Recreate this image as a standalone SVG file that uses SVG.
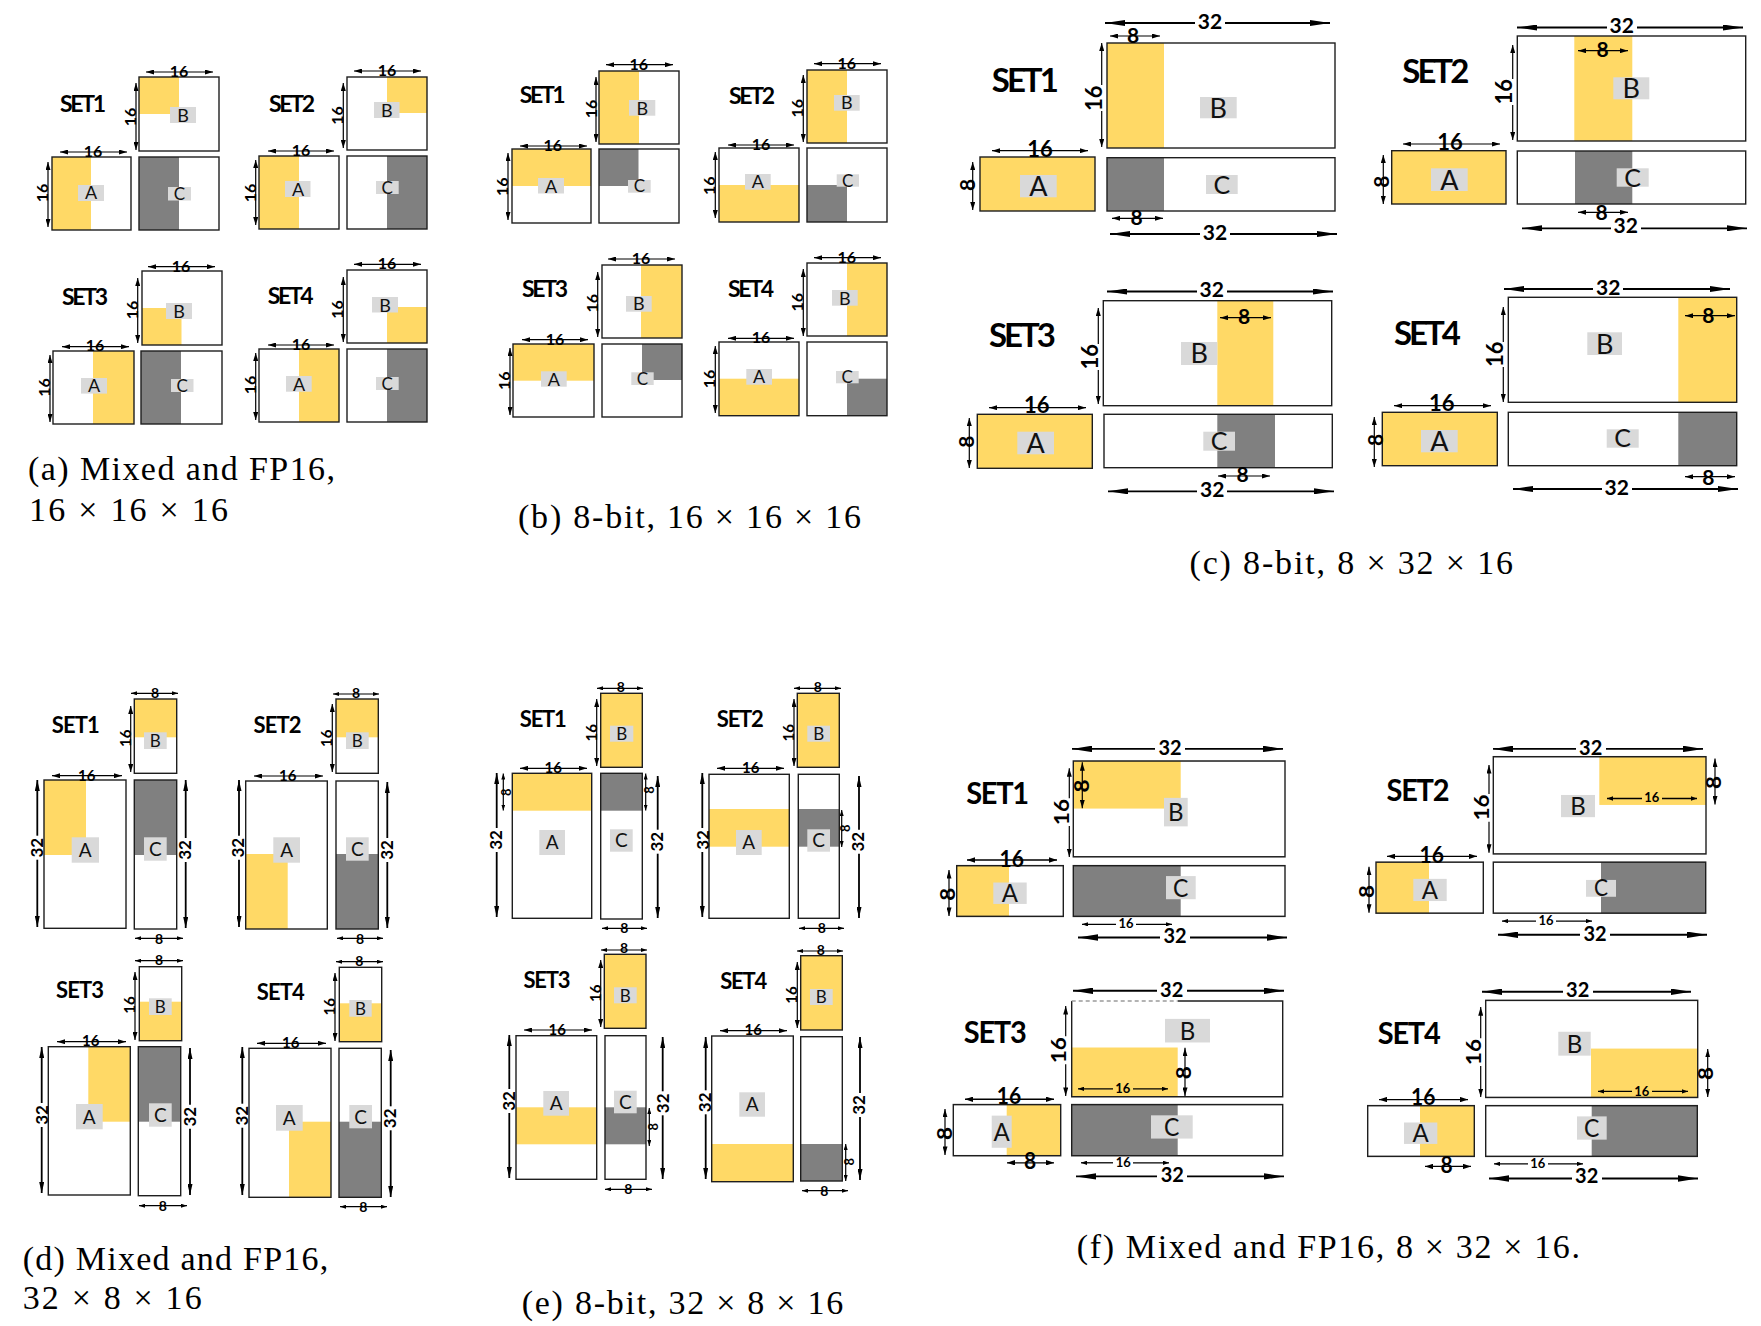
<svg xmlns="http://www.w3.org/2000/svg" width="1761" height="1326" viewBox="0 0 1761 1326">
<defs>
<style>
.bx{fill:none;stroke:#1e1e1e;stroke-width:1.4}
.yl{fill:#FFD966}
.dk{fill:#808080}
.lb{fill:#D9D9D9}
.set{font-family:Lato,"Liberation Sans",sans-serif;font-weight:700;text-anchor:middle;fill:#000}
.lbl{font-family:Lato,"Liberation Sans",sans-serif;text-anchor:middle;fill:#111}
.dm{font-family:Lato,"Liberation Sans",sans-serif;font-weight:700;text-anchor:middle;fill:#000}
.cap{font-family:"Liberation Serif","Times New Roman",serif;font-size:34px;fill:#000}
.l{stroke:#000;stroke-width:1.2;fill:none}
.w{stroke-width:1.8}
.ss{marker-start:url(#s);marker-end:url(#s)}
.sS{marker-start:url(#s)}
.sE{marker-end:url(#s)}
.tt{marker-start:url(#t);marker-end:url(#t)}
.tS{marker-start:url(#t)}
.tE{marker-end:url(#t)}
.mS{marker-start:url(#m)}
.mE{marker-end:url(#m)}
.bS{marker-start:url(#b)}
.bE{marker-end:url(#b)}
</style>
<marker id="s" viewBox="0 0 8 5" refX="8" refY="2.5" markerWidth="8" markerHeight="5" markerUnits="userSpaceOnUse" orient="auto-start-reverse"><path d="M0,0L8,2.5L0,5z"/></marker>
<marker id="t" viewBox="0 0 6 4" refX="6" refY="2" markerWidth="6" markerHeight="4" markerUnits="userSpaceOnUse" orient="auto-start-reverse"><path d="M0,0L6,2L0,4z"/></marker>
<marker id="m" viewBox="0 0 11 5" refX="11" refY="2.5" markerWidth="11" markerHeight="5" markerUnits="userSpaceOnUse" orient="auto-start-reverse"><path d="M0,0L11,2.5L0,5z"/></marker>
<marker id="b" viewBox="0 0 20 6" refX="20" refY="3" markerWidth="20" markerHeight="6" markerUnits="userSpaceOnUse" orient="auto-start-reverse"><path d="M0,0L20,3L0,6z"/></marker>
</defs>
<rect x="0" y="0" width="1761" height="1326" fill="#fff"/>

<!-- ================= PANEL A ================= -->
<g id="panel-a">
<g id="a-set1">
<text class="set" x="83" y="112" font-size="23" textLength="46">SET1</text>
<g id="a1-B"><rect class="yl" x="139" y="77" width="40" height="37"/><rect class="bx" x="139" y="77" width="80" height="74"/><rect class="lb" x="170" y="107" width="26" height="16"/><text class="lbl" x="183" y="121.5" font-size="18">B</text></g>
<g id="a1-A"><rect class="yl" x="52" y="157" width="39" height="73"/><rect class="bx" x="52" y="157" width="79" height="73"/><rect class="lb" x="78" y="185" width="26" height="16"/><text class="lbl" x="91" y="199" font-size="18">A</text></g>
<g id="a1-C"><rect class="dk" x="139" y="157" width="40" height="73"/><rect class="bx" x="139" y="157" width="80" height="73"/><rect class="lb" x="168" y="187" width="23" height="13.5"/><text class="lbl" x="179.5" y="199.8" font-size="17">C</text></g>
</g>
<g id="a-set2">
<text class="set" x="292" y="111.7" font-size="23" textLength="46">SET2</text>
<g id="a2-B"><rect class="yl" x="387" y="77" width="40" height="36"/><rect class="bx" x="347" y="77" width="80" height="73"/><rect class="lb" x="374" y="102" width="25.5" height="16"/><text class="lbl" x="386.7" y="116.5" font-size="18">B</text></g>
<g id="a2-A"><rect class="yl" x="259" y="156" width="40" height="73"/><rect class="bx" x="259" y="156" width="80" height="73"/><rect class="lb" x="285" y="181" width="25.5" height="16"/><text class="lbl" x="298" y="195.5" font-size="18">A</text></g>
<g id="a2-C"><rect class="dk" x="387" y="156" width="40" height="73"/><rect class="bx" x="347" y="156" width="80" height="73"/><rect class="lb" x="376" y="181" width="22.7" height="13"/><text class="lbl" x="387.3" y="193.6" font-size="17">C</text></g>
</g>
<g id="a-set3">
<text class="set" x="85" y="305" font-size="23" textLength="46">SET3</text>
<g id="a3-B"><rect class="yl" x="142" y="308" width="39.5" height="37"/><rect class="bx" x="142" y="271" width="80" height="74"/><rect class="lb" x="166" y="303" width="26" height="16"/><text class="lbl" x="179" y="317.5" font-size="18">B</text></g>
<g id="a3-A"><rect class="yl" x="93" y="351" width="41" height="73"/><rect class="bx" x="53" y="351" width="81" height="73"/><rect class="lb" x="81" y="378" width="26" height="15.6"/><text class="lbl" x="94" y="392.3" font-size="18">A</text></g>
<g id="a3-C"><rect class="dk" x="141" y="351" width="40" height="73"/><rect class="bx" x="141" y="351" width="81" height="73"/><rect class="lb" x="171" y="379" width="22.5" height="13"/><text class="lbl" x="182.3" y="391.6" font-size="17">C</text></g>
</g>
<g id="a-set4">
<text class="set" x="290.7" y="304" font-size="23" textLength="46">SET4</text>
<g id="a4-B"><rect class="yl" x="387" y="307" width="40" height="36"/><rect class="bx" x="347" y="270" width="80" height="73"/><rect class="lb" x="372" y="297" width="26" height="15.5"/><text class="lbl" x="385" y="311.5" font-size="18">B</text></g>
<g id="a4-A"><rect class="yl" x="299" y="349" width="40" height="73"/><rect class="bx" x="259" y="349" width="80" height="73"/><rect class="lb" x="286" y="376" width="25.7" height="15.7"/><text class="lbl" x="299" y="390.5" font-size="18">A</text></g>
<g id="a4-C"><rect class="dk" x="387" y="349" width="40" height="73"/><rect class="bx" x="347" y="349" width="80" height="73"/><rect class="lb" x="376" y="377" width="22.7" height="13"/><text class="lbl" x="387.3" y="389.6" font-size="17">C</text></g>
</g>
<g id="dims-a" font-size="16">
<line class="l ss" x1="146" y1="72" x2="213" y2="72"/><text class="dm" x="179" y="77">16</text>
<line class="l ss" x1="136" y1="83" x2="136" y2="150"/><text class="dm" transform="translate(136 117) rotate(-90)">16</text>
<line class="l ss" x1="60" y1="152" x2="127" y2="152"/><text class="dm" x="93" y="156.5">16</text>
<line class="l ss" x1="48" y1="162" x2="48" y2="227"/><text class="dm" transform="translate(48 193) rotate(-90)">16</text>
<line class="l ss" x1="354" y1="71" x2="421" y2="71"/><text class="dm" x="387" y="76">16</text>
<line class="l ss" x1="343.3" y1="83" x2="343.3" y2="148"/><text class="dm" transform="translate(343 115.5) rotate(-90)">16</text>
<line class="l ss" x1="268" y1="151" x2="334" y2="151"/><text class="dm" x="301" y="156">16</text>
<line class="l ss" x1="255.7" y1="160" x2="255.7" y2="225"/><text class="dm" transform="translate(256 193) rotate(-90)">16</text>
<line class="l ss" x1="148" y1="266.7" x2="215" y2="266.7"/><text class="dm" x="181" y="271.5">16</text>
<line class="l ss" x1="137.7" y1="278" x2="137.7" y2="343"/><text class="dm" transform="translate(138 310) rotate(-90)">16</text>
<line class="l ss" x1="62" y1="346.7" x2="129" y2="346.7"/><text class="dm" x="95" y="351">16</text>
<line class="l ss" x1="50" y1="355" x2="50" y2="422"/><text class="dm" transform="translate(50 387.5) rotate(-90)">16</text>
<line class="l ss" x1="354" y1="264.3" x2="421" y2="264.3"/><text class="dm" x="387" y="269">16</text>
<line class="l ss" x1="343.3" y1="277" x2="343.3" y2="342"/><text class="dm" transform="translate(343 309.5) rotate(-90)">16</text>
<line class="l ss" x1="268" y1="345" x2="334" y2="345"/><text class="dm" x="301" y="349.5">16</text>
<line class="l ss" x1="255.7" y1="353" x2="255.7" y2="420"/><text class="dm" transform="translate(256 385) rotate(-90)">16</text>
</g>
<text class="cap" x="28" y="480" textLength="307">(a) Mixed and FP16,</text>
<text class="cap" x="29" y="521" textLength="199">16 × 16 × 16</text>
</g>

<!-- ================= PANEL B ================= -->
<g id="panel-b">
<g id="b-set1">
<text class="set" x="542.7" y="103.3" font-size="23" textLength="46">SET1</text>
<g id="b1-B"><rect class="yl" x="599" y="71" width="40" height="73"/><rect class="bx" x="599" y="71" width="80" height="73"/><rect class="lb" x="629" y="100" width="26.3" height="15.7"/><text class="lbl" x="642.2" y="114.5" font-size="18">B</text></g>
<g id="b1-A"><rect class="yl" x="512" y="149" width="79" height="37"/><rect class="bx" x="512" y="149" width="79" height="74"/><rect class="lb" x="538" y="178" width="26" height="15.5"/><text class="lbl" x="551" y="192.5" font-size="18">A</text></g>
<g id="b1-C"><rect class="dk" x="599" y="149" width="39.5" height="37"/><rect class="bx" x="599" y="149" width="80" height="74"/><rect class="lb" x="628" y="180" width="22.7" height="12.7"/><text class="lbl" x="639.5" y="192.4" font-size="17">C</text></g>
</g>
<g id="b-set2">
<text class="set" x="752" y="104.3" font-size="23" textLength="46">SET2</text>
<g id="b2-B"><rect class="yl" x="807" y="70" width="40" height="73"/><rect class="bx" x="807" y="70" width="80" height="73"/><rect class="lb" x="834" y="95" width="25.7" height="15.7"/><text class="lbl" x="846.8" y="109.3" font-size="18">B</text></g>
<g id="b2-A"><rect class="yl" x="719" y="185" width="80" height="37"/><rect class="bx" x="719" y="148" width="80" height="74"/><rect class="lb" x="745" y="174" width="25.7" height="15.7"/><text class="lbl" x="757.8" y="188.3" font-size="18">A</text></g>
<g id="b2-C"><rect class="dk" x="807" y="185" width="40" height="37"/><rect class="bx" x="807" y="148" width="80" height="74"/><rect class="lb" x="836.7" y="174.3" width="22.3" height="12.4"/><text class="lbl" x="847.8" y="186.6" font-size="17">C</text></g>
</g>
<g id="b-set3">
<text class="set" x="545" y="297.3" font-size="23" textLength="46">SET3</text>
<g id="b3-B"><rect class="yl" x="641" y="265" width="41" height="73"/><rect class="bx" x="602" y="265" width="80" height="73"/><rect class="lb" x="626" y="296" width="25.7" height="15.7"/><text class="lbl" x="638.8" y="310.3" font-size="18">B</text></g>
<g id="b3-A"><rect class="yl" x="513" y="344" width="81" height="36.7"/><rect class="bx" x="513" y="344" width="81" height="73"/><rect class="lb" x="541" y="371.3" width="25.7" height="15.4"/><text class="lbl" x="553.8" y="385.5" font-size="18">A</text></g>
<g id="b3-C"><rect class="dk" x="642" y="344" width="40" height="36"/><rect class="bx" x="602" y="344" width="80" height="73"/><rect class="lb" x="631.3" y="372.3" width="22.4" height="12.7"/><text class="lbl" x="642.5" y="384.8" font-size="17">C</text></g>
</g>
<g id="b-set4">
<text class="set" x="751" y="296.7" font-size="23" textLength="46">SET4</text>
<g id="b4-B"><rect class="yl" x="847" y="263" width="40" height="73"/><rect class="bx" x="807" y="263" width="80" height="73"/><rect class="lb" x="832" y="290" width="25.7" height="15.7"/><text class="lbl" x="844.8" y="304.5" font-size="18">B</text></g>
<g id="b4-A"><rect class="yl" x="719" y="378.7" width="80" height="37"/><rect class="bx" x="719" y="342" width="80" height="73.7"/><rect class="lb" x="746.3" y="369" width="25.7" height="15.7"/><text class="lbl" x="759.2" y="383.3" font-size="18">A</text></g>
<g id="b4-C"><rect class="dk" x="847" y="378.7" width="40" height="37"/><rect class="bx" x="807" y="342" width="80" height="73.7"/><rect class="lb" x="836" y="371" width="22.7" height="12.3"/><text class="lbl" x="847.3" y="383.2" font-size="17">C</text></g>
</g>
<g id="dims-b" font-size="16">
<line class="l ss" x1="606" y1="64.7" x2="673" y2="64.7"/><text class="dm" x="638.7" y="69.5">16</text>
<line class="l ss" x1="596" y1="77" x2="596" y2="142"/><text class="dm" transform="translate(596.5 109) rotate(-90)">16</text>
<line class="l ss" x1="520" y1="146" x2="587" y2="146"/><text class="dm" x="552.7" y="150.5">16</text>
<line class="l ss" x1="508" y1="153" x2="508" y2="220"/><text class="dm" transform="translate(507.7 186.7) rotate(-90)">16</text>
<line class="l ss" x1="814" y1="63.7" x2="881" y2="63.7"/><text class="dm" x="846.7" y="68.5">16</text>
<line class="l ss" x1="803.3" y1="75" x2="803.3" y2="142"/><text class="dm" transform="translate(803.3 108.3) rotate(-90)">16</text>
<line class="l ss" x1="728" y1="145" x2="794" y2="145"/><text class="dm" x="761" y="149.5">16</text>
<line class="l ss" x1="715.3" y1="152" x2="715.3" y2="218"/><text class="dm" transform="translate(715.3 185.7) rotate(-90)">16</text>
<line class="l ss" x1="608" y1="259" x2="675" y2="259"/><text class="dm" x="641" y="264">16</text>
<line class="l ss" x1="597.7" y1="272" x2="597.7" y2="337"/><text class="dm" transform="translate(597.7 303.3) rotate(-90)">16</text>
<line class="l ss" x1="522" y1="339.7" x2="588" y2="339.7"/><text class="dm" x="555" y="344.5">16</text>
<line class="l ss" x1="510" y1="348" x2="510" y2="415"/><text class="dm" transform="translate(510 380.7) rotate(-90)">16</text>
<line class="l ss" x1="814" y1="257.7" x2="881" y2="257.7"/><text class="dm" x="846.7" y="262.5">16</text>
<line class="l ss" x1="803.3" y1="269" x2="803.3" y2="336"/><text class="dm" transform="translate(803.3 302.3) rotate(-90)">16</text>
<line class="l ss" x1="728" y1="338.3" x2="794" y2="338.3"/><text class="dm" x="761" y="343">16</text>
<line class="l ss" x1="715.3" y1="346" x2="715.3" y2="413"/><text class="dm" transform="translate(715.3 379) rotate(-90)">16</text>
</g>
<text class="cap" x="518" y="528" textLength="343">(b) 8-bit, 16 × 16 × 16</text>
</g>

<!-- ================= PANEL C ================= -->
<g id="panel-c">
<g id="c-set1">
<text class="set" x="1025.3" y="91.7" font-size="33" textLength="67">SET1</text>
<g id="c1-B"><rect class="yl" x="1107" y="43" width="57" height="105"/><rect class="bx" x="1107" y="43" width="228" height="105"/><rect class="lb" x="1200" y="97" width="36.7" height="21.3"/><text class="lbl" x="1218.3" y="117.5" font-size="27">B</text></g>
<g id="c1-A"><rect class="yl" x="980" y="157" width="115" height="54"/><rect class="bx" x="980" y="157" width="115" height="54"/><rect class="lb" x="1020" y="175" width="36.7" height="22.3"/><text class="lbl" x="1038.3" y="196" font-size="27">A</text></g>
<g id="c1-C"><rect class="dk" x="1107" y="157.7" width="57" height="53.3"/><rect class="bx" x="1107" y="157.7" width="228" height="53.3"/><rect class="lb" x="1206" y="175" width="31.7" height="19"/><text class="lbl" x="1221.8" y="193.5" font-size="25">C</text></g>
</g>
<g id="c-set2">
<text class="set" x="1435.8" y="83.3" font-size="33" textLength="67">SET2</text>
<g id="c2-B"><rect class="yl" x="1574.3" y="36" width="58" height="105"/><rect class="bx" x="1517.3" y="36" width="228.4" height="105"/><rect class="lb" x="1613.3" y="77.3" width="36" height="22"/><text class="lbl" x="1631.3" y="98" font-size="27">B</text></g>
<g id="c2-A"><rect class="yl" x="1391.7" y="150.7" width="114.3" height="53.3"/><rect class="bx" x="1391.7" y="150.7" width="114.3" height="53.3"/><rect class="lb" x="1431" y="168.3" width="36.7" height="22.7"/><text class="lbl" x="1449.3" y="189.5" font-size="27">A</text></g>
<g id="c2-C"><rect class="dk" x="1575" y="151" width="57.3" height="53"/><rect class="bx" x="1517.3" y="151" width="228.4" height="53"/><rect class="lb" x="1616.7" y="168.3" width="32" height="18.4"/><text class="lbl" x="1632.7" y="186.5" font-size="25">C</text></g>
</g>
<g id="c-set3">
<text class="set" x="1022.5" y="347.3" font-size="33" textLength="67">SET3</text>
<g id="c3-B"><rect class="yl" x="1217.3" y="300.7" width="56" height="105"/><rect class="bx" x="1103.3" y="300.7" width="228.4" height="105"/><rect class="lb" x="1181" y="342" width="36.3" height="23"/><text class="lbl" x="1199.2" y="363" font-size="27">B</text></g>
<g id="c3-A"><rect class="yl" x="977.3" y="414.3" width="115" height="54"/><rect class="bx" x="977.3" y="414.3" width="115" height="54"/><rect class="lb" x="1017.3" y="431.7" width="36.7" height="22.6"/><text class="lbl" x="1035.7" y="452.5" font-size="27">A</text></g>
<g id="c3-C"><rect class="dk" x="1217.3" y="414.3" width="57.7" height="53.4"/><rect class="bx" x="1104" y="414.3" width="228.3" height="53.4"/><rect class="lb" x="1203.3" y="431.7" width="31.7" height="19"/><text class="lbl" x="1219.2" y="450.3" font-size="25">C</text></g>
</g>
<g id="c-set4">
<text class="set" x="1427.5" y="345" font-size="33" textLength="67">SET4</text>
<g id="c4-B"><rect class="yl" x="1678.3" y="297.3" width="58.4" height="105"/><rect class="bx" x="1508.3" y="297.3" width="228.4" height="105"/><rect class="lb" x="1587.3" y="332.3" width="34.7" height="22.7"/><text class="lbl" x="1604.7" y="353.5" font-size="27">B</text></g>
<g id="c4-A"><rect class="yl" x="1382.3" y="412.3" width="115" height="53.4"/><rect class="bx" x="1382.3" y="412.3" width="115" height="53.4"/><rect class="lb" x="1421" y="430" width="36.7" height="22.3"/><text class="lbl" x="1439.3" y="451" font-size="27">A</text></g>
<g id="c4-C"><rect class="dk" x="1678.3" y="412.3" width="58.4" height="53.4"/><rect class="bx" x="1508.3" y="412.3" width="228.4" height="53.4"/><rect class="lb" x="1606.7" y="429.3" width="32" height="18.4"/><text class="lbl" x="1622.7" y="447.3" font-size="25">C</text></g>
</g>
<g id="dims-c" font-size="21">
<line class="l w bS" x1="1105" y1="23" x2="1195" y2="23"/><line class="l w bE" x1="1225" y1="23" x2="1330" y2="23"/><text class="dm" x="1210" y="28.5">32</text>
<line class="l ss" x1="1110" y1="36" x2="1160" y2="36"/><text class="dm" x="1133" y="43.3">8</text>
<line class="l sS" x1="1101.7" y1="43" x2="1101.7" y2="85"/><line class="l sE" x1="1101.7" y1="111" x2="1101.7" y2="147"/><text class="dm" font-size="22" transform="translate(1101.7 98.3) rotate(-90)">16</text>
<line class="l ss" x1="992" y1="150.7" x2="1088" y2="150.7"/><text class="dm" font-size="22" x="1040" y="156.7">16</text>
<line class="l ss" x1="972.7" y1="162" x2="972.7" y2="210"/><text class="dm" transform="translate(974.5 185) rotate(-90)">8</text>
<line class="l ss" x1="1112" y1="218.3" x2="1163" y2="218.3"/><text class="dm" x="1136.7" y="225">8</text>
<line class="l w bS" x1="1110" y1="234" x2="1200" y2="234"/><line class="l w bE" x1="1230" y1="234" x2="1337" y2="234"/><text class="dm" x="1215" y="240">32</text>
<line class="l w bS" x1="1517" y1="27.5" x2="1607" y2="27.5"/><line class="l w bE" x1="1637" y1="27.5" x2="1743" y2="27.5"/><text class="dm" x="1621.7" y="33">32</text>
<line class="l ss" x1="1578" y1="50.7" x2="1628" y2="50.7"/><text class="dm" x="1602.7" y="57.3">8</text>
<line class="l sS" x1="1512.7" y1="45" x2="1512.7" y2="79"/><line class="l sE" x1="1512.7" y1="105" x2="1512.7" y2="140"/><text class="dm" font-size="22" transform="translate(1512 91.7) rotate(-90)">16</text>
<line class="l ss" x1="1403" y1="144" x2="1500" y2="144"/><text class="dm" font-size="22" x="1450" y="150">16</text>
<line class="l ss" x1="1383.3" y1="155" x2="1383.3" y2="204"/><text class="dm" transform="translate(1389 181.7) rotate(-90)">8</text>
<line class="l ss" x1="1578" y1="212.3" x2="1628" y2="212.3"/><text class="dm" x="1601.7" y="220">8</text>
<line class="l w bS" x1="1522" y1="228.3" x2="1611" y2="228.3"/><line class="l w bE" x1="1641" y1="228.3" x2="1747" y2="228.3"/><text class="dm" x="1625.7" y="233.3">32</text>
<line class="l w bS" x1="1107" y1="291.5" x2="1197" y2="291.5"/><line class="l w bE" x1="1227" y1="291.5" x2="1333" y2="291.5"/><text class="dm" x="1211.7" y="296.7">32</text>
<line class="l ss" x1="1220" y1="317.7" x2="1271" y2="317.7"/><text class="dm" x="1244" y="323.5">8</text>
<line class="l sS" x1="1098.3" y1="308" x2="1098.3" y2="344"/><line class="l sE" x1="1098.3" y1="370" x2="1098.3" y2="404"/><text class="dm" font-size="22" transform="translate(1098.3 356.7) rotate(-90)">16</text>
<line class="l ss" x1="989" y1="407.7" x2="1086" y2="407.7"/><text class="dm" font-size="22" x="1036.7" y="413.3">16</text>
<line class="l ss" x1="969.3" y1="418" x2="969.3" y2="468"/><text class="dm" transform="translate(974 441.7) rotate(-90)">8</text>
<line class="l ss" x1="1218" y1="476" x2="1270" y2="476"/><text class="dm" x="1242.7" y="482">8</text>
<line class="l w bS" x1="1108" y1="491.3" x2="1197" y2="491.3"/><line class="l w bE" x1="1227" y1="491.3" x2="1334" y2="491.3"/><text class="dm" x="1212.3" y="496.7">32</text>
<line class="l w bS" x1="1504" y1="289" x2="1593" y2="289"/><line class="l w bE" x1="1623" y1="289" x2="1730" y2="289"/><text class="dm" x="1608.3" y="295">32</text>
<line class="l ss" x1="1685" y1="315.7" x2="1735" y2="315.7"/><text class="dm" x="1708.3" y="323">8</text>
<line class="l sS" x1="1503.3" y1="307" x2="1503.3" y2="342"/><line class="l sE" x1="1503.3" y1="367" x2="1503.3" y2="402"/><text class="dm" font-size="22" transform="translate(1503.3 354.3) rotate(-90)">16</text>
<line class="l ss" x1="1394" y1="405.7" x2="1491" y2="405.7"/><text class="dm" font-size="22" x="1441.7" y="411">16</text>
<line class="l ss" x1="1374.3" y1="417" x2="1374.3" y2="467"/><text class="dm" transform="translate(1382.5 440) rotate(-90)">8</text>
<line class="l ss" x1="1685" y1="476.7" x2="1735" y2="476.7"/><text class="dm" x="1708.3" y="484.5">8</text>
<line class="l w bS" x1="1513" y1="489" x2="1602" y2="489"/><line class="l w bE" x1="1632" y1="489" x2="1738" y2="489"/><text class="dm" x="1616.7" y="495">32</text>
</g>
<text class="cap" x="1189.5" y="573.5" textLength="323.5">(c) 8-bit, 8 × 32 × 16</text>
</g>

<!-- ================= PANEL D ================= -->
<g id="panel-d">
<g id="d-set1">
<text class="set" x="75.8" y="732.7" font-size="22" textLength="48">SET1</text>
<g id="d1-B"><rect class="yl" x="134.3" y="699" width="42.4" height="38.3"/><rect class="bx" x="134.3" y="699" width="42.4" height="74.3"/><rect class="lb" x="144" y="732.3" width="22.7" height="16.7"/><text class="lbl" x="155.3" y="746.8" font-size="17">B</text></g>
<g id="d1-A"><rect class="yl" x="44" y="780" width="42" height="75"/><rect class="bx" x="44" y="780" width="82" height="148.3"/><rect class="lb" x="71.7" y="837.3" width="27.3" height="25.4"/><text class="lbl" x="85.3" y="856.8" font-size="19">A</text></g>
<g id="d1-C"><rect class="dk" x="134.3" y="780" width="42.4" height="75"/><rect class="bx" x="134.3" y="780" width="42.4" height="149"/><rect class="lb" x="144" y="837.3" width="22.7" height="23.4"/><text class="lbl" x="155.3" y="855.9" font-size="19">C</text></g>
</g>
<g id="d-set2">
<text class="set" x="277.5" y="732.7" font-size="22" textLength="48">SET2</text>
<g id="d2-B"><rect class="yl" x="336" y="699" width="42.3" height="38.3"/><rect class="bx" x="336" y="699" width="42.3" height="74.3"/><rect class="lb" x="346" y="732.3" width="22.7" height="16.7"/><text class="lbl" x="357.3" y="746.8" font-size="17">B</text></g>
<g id="d2-A"><rect class="yl" x="245.7" y="854" width="42" height="75"/><rect class="bx" x="245.7" y="781" width="81.6" height="148"/><rect class="lb" x="273.3" y="837.3" width="26.7" height="25.4"/><text class="lbl" x="286.7" y="856.8" font-size="19">A</text></g>
<g id="d2-C"><rect class="dk" x="336" y="854" width="42.3" height="75"/><rect class="bx" x="336" y="781" width="42.3" height="148"/><rect class="lb" x="346" y="837.3" width="22.7" height="23.4"/><text class="lbl" x="357.3" y="855.9" font-size="19">C</text></g>
</g>
<g id="d-set3">
<text class="set" x="80" y="998.3" font-size="22" textLength="48">SET3</text>
<g id="d3-B"><rect class="yl" x="139.3" y="1001.7" width="42.4" height="39"/><rect class="bx" x="139.3" y="966.7" width="42.4" height="74"/><rect class="lb" x="149" y="998.3" width="22.7" height="16.7"/><text class="lbl" x="160.3" y="1012.8" font-size="17">B</text></g>
<g id="d3-A"><rect class="yl" x="88.3" y="1046.7" width="42" height="75"/><rect class="bx" x="48.3" y="1046.7" width="82" height="148.3"/><rect class="lb" x="76" y="1104" width="26.7" height="25.3"/><text class="lbl" x="89.3" y="1123.5" font-size="19">A</text></g>
<g id="d3-C"><rect class="dk" x="138.3" y="1046.7" width="42.4" height="75"/><rect class="bx" x="138.3" y="1046.7" width="42.4" height="149"/><rect class="lb" x="149" y="1103.3" width="22.7" height="23.4"/><text class="lbl" x="160.3" y="1122" font-size="19">C</text></g>
</g>
<g id="d-set4">
<text class="set" x="280.8" y="1000" font-size="22" textLength="48">SET4</text>
<g id="d4-B"><rect class="yl" x="339.3" y="1003.3" width="42.4" height="38.4"/><rect class="bx" x="339.3" y="967.3" width="42.4" height="74.4"/><rect class="lb" x="349.3" y="1000" width="22.4" height="16.7"/><text class="lbl" x="360.5" y="1014.5" font-size="17">B</text></g>
<g id="d4-A"><rect class="yl" x="289" y="1121.7" width="42" height="75.6"/><rect class="bx" x="249" y="1048.3" width="82" height="149"/><rect class="lb" x="276" y="1105" width="26.7" height="25.7"/><text class="lbl" x="289.3" y="1124.7" font-size="19">A</text></g>
<g id="d4-C"><rect class="dk" x="339" y="1121.7" width="42.3" height="75.6"/><rect class="bx" x="339" y="1048.3" width="42.3" height="149"/><rect class="lb" x="349.3" y="1105" width="22.7" height="23.3"/><text class="lbl" x="360.7" y="1123.5" font-size="19">C</text></g>
</g>
<g id="dims-d" font-size="15">
<line class="l tt" x1="131" y1="693.3" x2="178" y2="693.3"/><text class="dm" font-size="14" x="155" y="697.5">8</text>
<line class="l ss" x1="130.7" y1="706" x2="130.7" y2="772"/><text class="dm" transform="translate(130.5 738.3) rotate(-90)">16</text>
<line class="l ss" x1="52" y1="775.7" x2="122" y2="775.7"/><text class="dm" x="86.7" y="780.5">16</text>
<line class="l w mS" x1="37.3" y1="780" x2="37.3" y2="835.7"/><line class="l w mE" x1="37.3" y1="859.7" x2="37.3" y2="927"/><text class="dm" font-size="17" transform="translate(42.8 847.7) rotate(-90)">32</text>
<line class="l w mS" x1="185.7" y1="780" x2="185.7" y2="838"/><line class="l w mE" x1="185.7" y1="862" x2="185.7" y2="928"/><text class="dm" font-size="17" transform="translate(191 850) rotate(-90)">32</text>
<line class="l tt" x1="135" y1="938.3" x2="183" y2="938.3"/><text class="dm" font-size="14" x="159" y="943.5">8</text>
<line class="l tt" x1="333" y1="694" x2="379" y2="694"/><text class="dm" font-size="14" x="356" y="698">8</text>
<line class="l ss" x1="332.3" y1="704" x2="332.3" y2="772"/><text class="dm" transform="translate(332.3 738.3) rotate(-90)">16</text>
<line class="l ss" x1="254" y1="776" x2="323" y2="776"/><text class="dm" x="287.7" y="780.5">16</text>
<line class="l w mS" x1="239" y1="780" x2="239" y2="835.7"/><line class="l w mE" x1="239" y1="859.7" x2="239" y2="927"/><text class="dm" font-size="17" transform="translate(244.4 847.7) rotate(-90)">32</text>
<line class="l w mS" x1="387.3" y1="782" x2="387.3" y2="838"/><line class="l w mE" x1="387.3" y1="862" x2="387.3" y2="928"/><text class="dm" font-size="17" transform="translate(392.8 850) rotate(-90)">32</text>
<line class="l tt" x1="337" y1="938.3" x2="383" y2="938.3"/><text class="dm" font-size="14" x="360" y="943.5">8</text>
<line class="l tt" x1="135" y1="960.7" x2="183" y2="960.7"/><text class="dm" font-size="14" x="159" y="965">8</text>
<line class="l ss" x1="135" y1="972" x2="135" y2="1040"/><text class="dm" transform="translate(135 1005) rotate(-90)">16</text>
<line class="l ss" x1="57" y1="1041.7" x2="126" y2="1041.7"/><text class="dm" x="90.7" y="1046.3">16</text>
<line class="l w mS" x1="41.7" y1="1047" x2="41.7" y2="1103"/><line class="l w mE" x1="41.7" y1="1127" x2="41.7" y2="1193"/><text class="dm" font-size="17" transform="translate(47.8 1115) rotate(-90)">32</text>
<line class="l w mS" x1="190" y1="1048" x2="190" y2="1104.7"/><line class="l w mE" x1="190" y1="1128.7" x2="190" y2="1195"/><text class="dm" font-size="17" transform="translate(196 1116.7) rotate(-90)">32</text>
<line class="l tt" x1="139" y1="1205.7" x2="187" y2="1205.7"/><text class="dm" font-size="14" x="162.7" y="1210.5">8</text>
<line class="l tt" x1="336" y1="961.7" x2="383" y2="961.7"/><text class="dm" font-size="14" x="359.3" y="966">8</text>
<line class="l ss" x1="335" y1="973" x2="335" y2="1041"/><text class="dm" transform="translate(335 1006.7) rotate(-90)">16</text>
<line class="l ss" x1="257" y1="1043.3" x2="326" y2="1043.3"/><text class="dm" x="290.7" y="1048">16</text>
<line class="l w mS" x1="242.3" y1="1047" x2="242.3" y2="1103.7"/><line class="l w mE" x1="242.3" y1="1127.7" x2="242.3" y2="1195"/><text class="dm" font-size="17" transform="translate(248.3 1115.7) rotate(-90)">32</text>
<line class="l w mS" x1="390.7" y1="1050" x2="390.7" y2="1106.3"/><line class="l w mE" x1="390.7" y1="1130.3" x2="390.7" y2="1197"/><text class="dm" font-size="17" transform="translate(396 1118.3) rotate(-90)">32</text>
<line class="l tt" x1="340" y1="1206.7" x2="387" y2="1206.7"/><text class="dm" font-size="14" x="363.3" y="1211.5">8</text>
</g>
<text class="cap" x="22.7" y="1270" textLength="305.6">(d) Mixed and FP16,</text>
<text class="cap" x="22.7" y="1309.3" textLength="179">32 × 8 × 16</text>
</g>

<!-- ================= PANEL E ================= -->
<g id="panel-e">
<g id="e-set1">
<text class="set" x="543.3" y="726.7" font-size="22" textLength="47">SET1</text>
<g id="e1-B"><rect class="yl" x="600.7" y="693.3" width="41.6" height="74"/><rect class="bx" x="600.7" y="693.3" width="41.6" height="74"/><rect class="lb" x="610" y="725.7" width="23.3" height="16"/><text class="lbl" x="621.7" y="740" font-size="17">B</text></g>
<g id="e1-A"><rect class="yl" x="512.3" y="773.3" width="79.4" height="37.4"/><rect class="bx" x="512.3" y="773.3" width="79.4" height="145"/><rect class="lb" x="539.3" y="830" width="25.7" height="25"/><text class="lbl" x="552.2" y="849.3" font-size="19">A</text></g>
<g id="e1-C"><rect class="dk" x="600.7" y="773.3" width="41.6" height="37.4"/><rect class="bx" x="600.7" y="773.3" width="41.6" height="145.7"/><rect class="lb" x="610" y="829.3" width="22.7" height="22.4"/><text class="lbl" x="621.3" y="847.3" font-size="19">C</text></g>
</g>
<g id="e-set2">
<text class="set" x="740.3" y="726.7" font-size="22" textLength="47">SET2</text>
<g id="e2-B"><rect class="yl" x="797.3" y="693.3" width="42" height="74"/><rect class="bx" x="797.3" y="693.3" width="42" height="74"/><rect class="lb" x="807.3" y="725.7" width="22.7" height="16"/><text class="lbl" x="818.7" y="740" font-size="17">B</text></g>
<g id="e2-A"><rect class="yl" x="709" y="809" width="80.3" height="37.7"/><rect class="bx" x="709" y="774.3" width="80.3" height="144"/><rect class="lb" x="736" y="830" width="25.7" height="25"/><text class="lbl" x="748.8" y="849.3" font-size="19">A</text></g>
<g id="e2-C"><rect class="dk" x="798.3" y="809" width="41" height="37.7"/><rect class="bx" x="798.3" y="774.3" width="41" height="144"/><rect class="lb" x="807.3" y="829.3" width="22.7" height="22.4"/><text class="lbl" x="818.7" y="847.3" font-size="19">C</text></g>
</g>
<g id="e-set3">
<text class="set" x="547" y="988.3" font-size="22" textLength="47">SET3</text>
<g id="e3-B"><rect class="yl" x="604.3" y="954.3" width="41.7" height="74"/><rect class="bx" x="604.3" y="954.3" width="41.7" height="74"/><rect class="lb" x="614" y="987.3" width="22.7" height="16"/><text class="lbl" x="625.3" y="1001.5" font-size="17">B</text></g>
<g id="e3-A"><rect class="yl" x="516" y="1107.3" width="80.7" height="37"/><rect class="bx" x="516" y="1035.7" width="80.7" height="143.6"/><rect class="lb" x="543.3" y="1091" width="25.7" height="24.7"/><text class="lbl" x="556.2" y="1110.2" font-size="19">A</text></g>
<g id="e3-C"><rect class="dk" x="605" y="1107.3" width="41" height="37"/><rect class="bx" x="605" y="1035.7" width="41" height="143.6"/><rect class="lb" x="614" y="1090.7" width="22.7" height="22.6"/><text class="lbl" x="625.3" y="1108.7" font-size="19">C</text></g>
</g>
<g id="e-set4">
<text class="set" x="743.7" y="989" font-size="22" textLength="47">SET4</text>
<g id="e4-B"><rect class="yl" x="800.7" y="955.7" width="41.6" height="74.3"/><rect class="bx" x="800.7" y="955.7" width="41.6" height="74.3"/><rect class="lb" x="810" y="989" width="22.7" height="16"/><text class="lbl" x="821.3" y="1003.3" font-size="17">B</text></g>
<g id="e4-A"><rect class="yl" x="711.7" y="1144" width="81.6" height="37.7"/><rect class="bx" x="711.7" y="1036" width="81.6" height="145.7"/><rect class="lb" x="739.3" y="1092.3" width="25.7" height="24.4"/><text class="lbl" x="752.2" y="1111.3" font-size="19">A</text></g>
<g id="e4-C"><rect class="dk" x="800.7" y="1144" width="41.6" height="37"/><rect class="bx" x="800.7" y="1036.7" width="41.6" height="144.3"/></g>
</g>
<g id="dims-e" font-size="15">
<line class="l tt" x1="597" y1="688.3" x2="643" y2="688.3"/><text class="dm" font-size="14" x="620.7" y="691.5">8</text>
<line class="l ss" x1="596.7" y1="699" x2="596.7" y2="766"/><text class="dm" transform="translate(596.7 732.7) rotate(-90)">16</text>
<line class="l ss" x1="520" y1="768.3" x2="587" y2="768.3"/><text class="dm" x="553.3" y="773">16</text>
<line class="l tt" x1="503.3" y1="773.5" x2="503.3" y2="810.5"/><text class="dm" font-size="13" transform="translate(511 792.3) rotate(-90)">8</text>
<line class="l w mS" x1="496.7" y1="773" x2="496.7" y2="828"/><line class="l w mE" x1="496.7" y1="852" x2="496.7" y2="917"/><text class="dm" font-size="17" transform="translate(502.4 840) rotate(-90)">32</text>
<line class="l tt" x1="645.7" y1="773.5" x2="645.7" y2="810.5"/><text class="dm" font-size="13" transform="translate(653.7 790) rotate(-90)">8</text>
<line class="l w mS" x1="657.7" y1="776" x2="657.7" y2="829.7"/><line class="l w mE" x1="657.7" y1="853.7" x2="657.7" y2="918"/><text class="dm" font-size="17" transform="translate(663 841.7) rotate(-90)">32</text>
<line class="l tt" x1="602" y1="928.3" x2="647" y2="928.3"/><text class="dm" font-size="14" x="624.3" y="933">8</text>
<line class="l tt" x1="794" y1="688.3" x2="841" y2="688.3"/><text class="dm" font-size="14" x="817.7" y="691.5">8</text>
<line class="l ss" x1="794" y1="699" x2="794" y2="766"/><text class="dm" transform="translate(794 732.7) rotate(-90)">16</text>
<line class="l ss" x1="717" y1="768.3" x2="784" y2="768.3"/><text class="dm" x="750.7" y="773">16</text>
<line class="l w mS" x1="702.3" y1="773" x2="702.3" y2="828"/><line class="l w mE" x1="702.3" y1="852" x2="702.3" y2="917"/><text class="dm" font-size="17" transform="translate(708.8 840) rotate(-90)">32</text>
<line class="l tt" x1="841.7" y1="810" x2="841.7" y2="847"/><text class="dm" font-size="13" transform="translate(849.7 828.3) rotate(-90)">8</text>
<line class="l w mS" x1="859" y1="776" x2="859" y2="829.7"/><line class="l w mE" x1="859" y1="853.7" x2="859" y2="918"/><text class="dm" font-size="17" transform="translate(864.4 841.7) rotate(-90)">32</text>
<line class="l tt" x1="799" y1="928.3" x2="844" y2="928.3"/><text class="dm" font-size="14" x="821.7" y="933">8</text>
<line class="l tt" x1="601" y1="950" x2="647" y2="950"/><text class="dm" font-size="14" x="624" y="952.5">8</text>
<line class="l ss" x1="600.7" y1="960" x2="600.7" y2="1027"/><text class="dm" transform="translate(600.7 993.3) rotate(-90)">16</text>
<line class="l ss" x1="524" y1="1030" x2="592" y2="1030"/><text class="dm" x="557.3" y="1034.5">16</text>
<line class="l w mS" x1="509.3" y1="1035" x2="509.3" y2="1089"/><line class="l w mE" x1="509.3" y1="1113" x2="509.3" y2="1178"/><text class="dm" font-size="17" transform="translate(515 1101) rotate(-90)">32</text>
<line class="l tt" x1="649.3" y1="1108" x2="649.3" y2="1146"/><text class="dm" font-size="13" transform="translate(658 1126.7) rotate(-90)">8</text>
<line class="l w mS" x1="662.7" y1="1037" x2="662.7" y2="1091.3"/><line class="l w mE" x1="662.7" y1="1115.3" x2="662.7" y2="1179"/><text class="dm" font-size="17" transform="translate(669.4 1103.3) rotate(-90)">32</text>
<line class="l tt" x1="605" y1="1189.3" x2="652" y2="1189.3"/><text class="dm" font-size="14" x="628.3" y="1194">8</text>
<line class="l tt" x1="797" y1="951" x2="843" y2="951"/><text class="dm" font-size="14" x="820.7" y="954.5">8</text>
<line class="l ss" x1="797.3" y1="962" x2="797.3" y2="1028"/><text class="dm" transform="translate(797.3 995) rotate(-90)">16</text>
<line class="l ss" x1="720" y1="1030.7" x2="787" y2="1030.7"/><text class="dm" x="753.3" y="1035">16</text>
<line class="l w mS" x1="705.7" y1="1037" x2="705.7" y2="1090.3"/><line class="l w mE" x1="705.7" y1="1114.3" x2="705.7" y2="1179"/><text class="dm" font-size="17" transform="translate(711 1102.3) rotate(-90)">32</text>
<line class="l tt" x1="845.7" y1="1144" x2="845.7" y2="1181"/><text class="dm" font-size="13" transform="translate(853.7 1161.7) rotate(-90)">8</text>
<line class="l w mS" x1="860" y1="1037" x2="860" y2="1093"/><line class="l w mE" x1="860" y1="1117" x2="860" y2="1180"/><text class="dm" font-size="17" transform="translate(865 1105) rotate(-90)">32</text>
<line class="l tt" x1="802" y1="1190.7" x2="848" y2="1190.7"/><text class="dm" font-size="14" x="824.3" y="1195.5">8</text>
</g>
<text class="cap" x="521.7" y="1314" textLength="321.6">(e) 8-bit, 32 × 8 × 16</text>
</g>

<!-- ================= PANEL F ================= -->
<g id="panel-f">
<g id="panel-f-body" transform="matrix(1 0 0 1.0714 0 -51.43)">
<g id="f-set1">
<text class="set" x="997.7" y="798.3" font-size="29" textLength="63">SET1</text>
<g id="f1-B"><rect class="yl" x="1073.3" y="758.3" width="107.4" height="44.4"/><rect class="bx" x="1073.3" y="758.3" width="211.7" height="89.4"/><rect class="lb" x="1164" y="792.7" width="23.7" height="26.6"/><text class="lbl" x="1175.8" y="814.6" font-size="24">B</text></g>
<g id="f1-A"><rect class="yl" x="956.7" y="856" width="52.3" height="47.3"/><rect class="bx" x="956.7" y="856" width="106.6" height="47.3"/><rect class="lb" x="993.3" y="871.7" width="33.4" height="20"/><text class="lbl" x="1010" y="890.3" font-size="24">A</text></g>
<g id="f1-C"><rect class="dk" x="1073.3" y="856" width="107.4" height="47.3"/><rect class="bx" x="1073.3" y="856" width="211.7" height="47.3"/><rect class="lb" x="1166" y="865.7" width="29.7" height="21.6"/><text class="lbl" x="1180.8" y="884.8" font-size="23">C</text></g>
</g>
<g id="f-set2">
<text class="set" x="1418" y="796" font-size="29" textLength="63">SET2</text>
<g id="f2-B"><rect class="yl" x="1599.3" y="754.3" width="106.7" height="45"/><rect class="bx" x="1493.3" y="754.3" width="212.7" height="90.7"/><rect class="lb" x="1561" y="790" width="34" height="20.7"/><text class="lbl" x="1578" y="808.9" font-size="24">B</text></g>
<g id="f2-A"><rect class="yl" x="1376" y="852.7" width="53" height="47.6"/><rect class="bx" x="1376" y="852.7" width="107.3" height="47.6"/><rect class="lb" x="1413.3" y="868.3" width="33.4" height="20.7"/><text class="lbl" x="1430" y="887.3" font-size="24">A</text></g>
<g id="f2-C"><rect class="dk" x="1601" y="852.7" width="104.7" height="47.6"/><rect class="bx" x="1493.3" y="852.7" width="212.4" height="47.6"/><rect class="lb" x="1586" y="869.3" width="30" height="15.7"/><text class="lbl" x="1601" y="884.7" font-size="21">C</text></g>
</g>
<g id="f-set3">
<text class="set" x="995.3" y="1021.7" font-size="29" textLength="63">SET3</text>
<g id="f3-B"><rect class="yl" x="1071.7" y="1025.7" width="106" height="46"/><path class="bx" d="M1178,982.3 H1282.7 V1071.7 H1071.7 V982.3"/><line x1="1071.7" y1="982.3" x2="1178" y2="982.3" stroke="#9a9a9a" stroke-width="1.2" stroke-dasharray="4 3"/><rect class="lb" x="1165" y="999" width="45" height="22"/><text class="lbl" x="1187.5" y="1018.6" font-size="24">B</text></g>
<g id="f3-A"><rect class="yl" x="1006.7" y="1079" width="54" height="47.7"/><rect class="bx" x="953.3" y="1079" width="107.4" height="47.7"/><rect class="lb" x="991.7" y="1089.3" width="20" height="30"/><text class="lbl" x="1001.7" y="1112.9" font-size="24">A</text></g>
<g id="f3-C"><rect class="dk" x="1071.7" y="1079" width="106" height="47.7"/><rect class="bx" x="1071.7" y="1079" width="211" height="47.7"/><rect class="lb" x="1151" y="1089" width="41.7" height="21.7"/><text class="lbl" x="1171.8" y="1108.1" font-size="23">C</text></g>
</g>
<g id="f-set4">
<text class="set" x="1409.3" y="1022.3" font-size="29" textLength="63">SET4</text>
<g id="f4-B"><rect class="yl" x="1591" y="1026.7" width="106.7" height="45.6"/><rect class="bx" x="1485.7" y="981.7" width="212" height="90.6"/><rect class="lb" x="1558.3" y="1011" width="32.4" height="22.3"/><text class="lbl" x="1574.5" y="1030.8" font-size="24">B</text></g>
<g id="f4-A"><rect class="yl" x="1420" y="1080" width="54.3" height="47.3"/><rect class="bx" x="1367.7" y="1080" width="106.6" height="47.3"/><rect class="lb" x="1404" y="1095.7" width="33.3" height="20"/><text class="lbl" x="1420.7" y="1114.3" font-size="24">A</text></g>
<g id="f4-C"><rect class="dk" x="1591.7" y="1080" width="105.6" height="47.3"/><rect class="bx" x="1485.7" y="1080" width="211.6" height="47.3"/><rect class="lb" x="1577" y="1090" width="29.7" height="21.7"/><text class="lbl" x="1591.8" y="1109.1" font-size="23">C</text></g>
</g>
<g id="dims-f" font-size="21">
<line class="l w bS" x1="1072" y1="747" x2="1155" y2="747"/><line class="l w bE" x1="1185" y1="747" x2="1283" y2="747"/><text class="dm" font-size="20" x="1170" y="752.5">32</text>
<line class="l sS" x1="1069.3" y1="765" x2="1069.3" y2="793"/><line class="l sE" x1="1069.3" y1="819" x2="1069.3" y2="848"/><text class="dm" transform="translate(1069.3 806) rotate(-90)">16</text>
<line class="l ss" x1="1082.3" y1="759.5" x2="1082.3" y2="802.5"/><text class="dm" transform="translate(1089.3 781.7) rotate(-90)">8</text>
<line class="l ss" x1="967" y1="850.7" x2="1057" y2="850.7"/><text class="dm" x="1011.7" y="857">16</text>
<line class="l ss" x1="949" y1="860" x2="949" y2="903"/><text class="dm" transform="translate(955 882.7) rotate(-90)">8</text>
<line class="l tS" x1="1082" y1="910.7" x2="1116" y2="910.7"/><line class="l tE" x1="1136" y1="910.7" x2="1172" y2="910.7"/><text class="dm" font-size="13" x="1126" y="914.5">16</text>
<line class="l w bS" x1="1078" y1="923" x2="1160" y2="923"/><line class="l w bE" x1="1190" y1="923" x2="1287" y2="923"/><text class="dm" font-size="20" x="1175" y="928.5">32</text>
<line class="l w bS" x1="1493" y1="747" x2="1576" y2="747"/><line class="l w bE" x1="1606" y1="747" x2="1703" y2="747"/><text class="dm" font-size="20" x="1590.7" y="752.3">32</text>
<line class="l sS" x1="1489" y1="762" x2="1489" y2="789"/><line class="l sE" x1="1489" y1="815" x2="1489" y2="844"/><text class="dm" transform="translate(1489 801.7) rotate(-90)">16</text>
<line class="l tS" x1="1607" y1="793.3" x2="1642" y2="793.3"/><line class="l tE" x1="1662" y1="793.3" x2="1697" y2="793.3"/><text class="dm" font-size="13" x="1651.7" y="797">16</text>
<line class="l ss" x1="1715" y1="756" x2="1715" y2="799"/><text class="dm" transform="translate(1720.8 778.3) rotate(-90)">8</text>
<line class="l ss" x1="1387" y1="847.3" x2="1477" y2="847.3"/><text class="dm" x="1431.7" y="853.5">16</text>
<line class="l ss" x1="1369" y1="857" x2="1369" y2="900"/><text class="dm" transform="translate(1374.3 880) rotate(-90)">8</text>
<line class="l tS" x1="1502" y1="907.7" x2="1536" y2="907.7"/><line class="l tE" x1="1556" y1="907.7" x2="1592" y2="907.7"/><text class="dm" font-size="13" x="1546" y="911.5">16</text>
<line class="l w bS" x1="1498" y1="920.5" x2="1580" y2="920.5"/><line class="l w bE" x1="1610" y1="920.5" x2="1707" y2="920.5"/><text class="dm" font-size="20" x="1595" y="926">32</text>
<line class="l w bS" x1="1073" y1="972.8" x2="1157" y2="972.8"/><line class="l w bE" x1="1187" y1="972.8" x2="1284" y2="972.8"/><text class="dm" font-size="20" x="1171.7" y="978.3">32</text>
<line class="l sS" x1="1065.7" y1="987" x2="1065.7" y2="1015.3"/><line class="l sE" x1="1065.7" y1="1041.3" x2="1065.7" y2="1071"/><text class="dm" transform="translate(1065.7 1028.3) rotate(-90)">16</text>
<line class="l tS" x1="1078" y1="1064.3" x2="1113" y2="1064.3"/><line class="l tE" x1="1133" y1="1064.3" x2="1168" y2="1064.3"/><text class="dm" font-size="13" x="1122.7" y="1068.3">16</text>
<line class="l ss" x1="1185" y1="1026" x2="1185" y2="1071"/><text class="dm" transform="translate(1190.8 1049.3) rotate(-90)">8</text>
<line class="l ss" x1="965" y1="1074" x2="1054" y2="1074"/><text class="dm" x="1009" y="1078.5">16</text>
<line class="l ss" x1="945" y1="1083" x2="945" y2="1126"/><text class="dm" transform="translate(952.3 1106) rotate(-90)">8</text>
<line class="l ss" x1="1007" y1="1133.3" x2="1054" y2="1133.3"/><text class="dm" x="1030" y="1139.5">8</text>
<line class="l tS" x1="1081" y1="1133.3" x2="1113" y2="1133.3"/><line class="l tE" x1="1133" y1="1133.3" x2="1169" y2="1133.3"/><text class="dm" font-size="13" x="1123.3" y="1137.3">16</text>
<line class="l w bS" x1="1076" y1="1146" x2="1157" y2="1146"/><line class="l w bE" x1="1187" y1="1146" x2="1284" y2="1146"/><text class="dm" font-size="20" x="1172.3" y="1151.7">32</text>
<line class="l w bS" x1="1482" y1="973.7" x2="1563" y2="973.7"/><line class="l w bE" x1="1593" y1="973.7" x2="1691" y2="973.7"/><text class="dm" font-size="20" x="1577.7" y="979">32</text>
<line class="l sS" x1="1480.7" y1="988" x2="1480.7" y2="1017"/><line class="l sE" x1="1480.7" y1="1043" x2="1480.7" y2="1072"/><text class="dm" transform="translate(1480.5 1030) rotate(-90)">16</text>
<line class="l tS" x1="1598" y1="1066.7" x2="1632" y2="1066.7"/><line class="l tE" x1="1652" y1="1066.7" x2="1688" y2="1066.7"/><text class="dm" font-size="13" x="1641.7" y="1070.5">16</text>
<line class="l ss" x1="1707.7" y1="1027" x2="1707.7" y2="1072"/><text class="dm" transform="translate(1713.3 1050) rotate(-90)">8</text>
<line class="l ss" x1="1379" y1="1074.3" x2="1468" y2="1074.3"/><text class="dm" x="1423.3" y="1079.5">16</text>
<line class="l ss" x1="1425" y1="1136.7" x2="1471" y2="1136.7"/><text class="dm" x="1446.7" y="1143">8</text>
<line class="l tS" x1="1494" y1="1134.3" x2="1528" y2="1134.3"/><line class="l tE" x1="1548" y1="1134.3" x2="1583" y2="1134.3"/><text class="dm" font-size="13" x="1537.7" y="1138">16</text>
<line class="l w bS" x1="1489" y1="1148" x2="1572" y2="1148"/><line class="l w bE" x1="1602" y1="1148" x2="1698" y2="1148"/><text class="dm" font-size="20" x="1586.7" y="1152.5">32</text>
</g>
</g>
<text class="cap" x="1076.7" y="1258" textLength="503.3">(f) Mixed and FP16, 8 × 32 × 16.</text>
</g>
</svg>
